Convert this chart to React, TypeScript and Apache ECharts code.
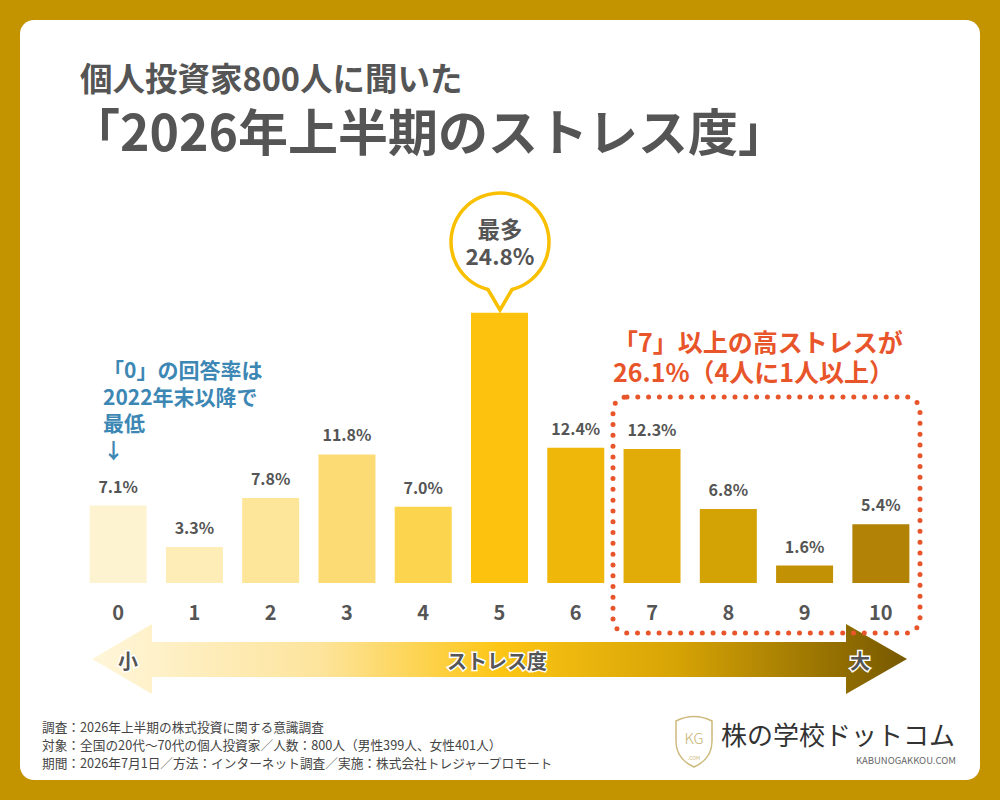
import React, { useEffect, useRef } from "react";
import * as echarts from "echarts";

const categories = ["0", "1", "2", "3", "4", "5", "6", "7", "8", "9", "10"];
const values = [7.1, 3.3, 7.8, 11.8, 7.0, 24.8, 12.4, 12.3, 6.8, 1.6, 5.4];
const titleLines = ["個人投資家800人に聞いた", "「2026年上半期のストレス度」"];
const blueNote = ["「0」の回答率は", "2022年末以降で", "最低", "↓"];
const redNote = ["「7」以上の高ストレスが", "26.1%（4人に1人以上）"];
const footerLines = [
  "調査：2026年上半期の株式投資に関する意識調査",
  "対象：全国の20代～70代の個人投資家／人数：800人（男性399人、女性401人）",
  "期間：2026年7月1日／方法：インターネット調査／実施：株式会社トレジャープロモート",
];
const peakLabel = "最多";
const arrowLabels = ["小", "ストレス度", "大"];

const BAR_COLORS = [
  "#FEF3D0", "#FEEDB6", "#FDE59A", "#FDDB74", "#FDD44E", "#FDC20D",
  "#EFB70A", "#E1AC07", "#D3A205", "#C39104", "#B18205",
];

const FONT = '"Noto Sans CJK JP", "Noto Sans", sans-serif';

let registered = false;
function registerShapes() {
  if (registered) return;
  registered = true;
  echarts.graphic.registerShape(
    "bubble",
    echarts.graphic.extendPath(
      "M 512 289.5 A 49 49 0 1 0 488 289.5 L 500 310 Z",
      {}
    )
  );
  echarts.graphic.registerShape(
    "shield",
    echarts.graphic.extendPath(
      "M 1 7 Q 19 -2 37 7 L 37 27 Q 37 45 19 53 Q 1 45 1 27 Z",
      {}
    )
  );
}

export default function App() {
  const ref = useRef<HTMLDivElement>(null);
  useEffect(() => {
    if (!ref.current) return;
    registerShapes();
    const chart = echarts.init(ref.current, null, { renderer: "svg" });
    const textEl = (
      text: string,
      x: number,
      y: number,
      size: number,
      color: string,
      weight: string | number = "bold",
      align: string = "left",
      extra: any = {}
    ) => ({
      type: "text",
      z: 20,
      style: {
        text,
        x,
        y,
        fill: color,
        font: `${weight} ${size}px ${FONT}`,
        textAlign: align,
        textVerticalAlign: "middle",
        ...extra,
      },
    });
    const halo = { stroke: "#ffffff", lineWidth: 3, strokeFirst: true };

    const graphics: any[] = [
      {
        type: "rect",
        z: -10,
        shape: { x: 20, y: 20, width: 960, height: 760, r: 14 },
        style: { fill: "#ffffff" },
      },
      textEl(titleLines[0], 80, 76, 32.5, "#555555"),
      textEl(titleLines[1], 70, 129, 50, "#555555"),
      textEl(blueNote.join("\n"), 103, 409, 21, "#3D87B4", "bold", "left", {
        lineHeight: 26.5,
      }),
      textEl(redNote.join("\n"), 613, 356, 25, "#E8552A", "bold", "left", {
        lineHeight: 30,
      }),
      {
        type: "bubble",
        z: 15,
        x: 0,
        y: 0,
        style: { fill: "#ffffff", stroke: "#F8C000", lineWidth: 3.5 },
      },
      textEl(
        `${peakLabel}\n${values[5].toFixed(1)}%`,
        500,
        241,
        22.5,
        "#555555",
        "bold",
        "center",
        { lineHeight: 27 }
      ),
      {
        type: "rect",
        z: 15,
        shape: { x: 613, y: 397, width: 307, height: 236, r: 14 },
        style: {
          fill: "none",
          stroke: "#E8552A",
          lineWidth: 5,
          lineDash: [0, 10.8],
          lineCap: "round",
        },
      },
      {
        type: "polygon",
        z: 5,
        shape: {
          points: [
            [92, 659], [152, 624], [152, 642], [846, 642], [846, 624],
            [907, 659], [846, 694], [846, 677], [152, 677], [152, 694],
          ],
        },
        style: {
          fill: new echarts.graphic.LinearGradient(0, 0, 1, 0, [
            { offset: 0, color: "#FFF6DA" },
            { offset: 0.28, color: "#FDE49C" },
            { offset: 0.5, color: "#FDC615" },
            { offset: 0.72, color: "#D6A305" },
            { offset: 1, color: "#765800" },
          ]),
        },
      },
      textEl(arrowLabels[0], 128, 660, 20, "#555555", "bold", "center", halo),
      textEl(arrowLabels[1], 497, 660, 20, "#555555", "bold", "center", halo),
      textEl(arrowLabels[2], 860, 660, 20, "#555555", "bold", "center", halo),
      textEl(footerLines.join("\n"), 42, 744, 12.7, "#444444", "normal", "left", {
        lineHeight: 18,
      }),
      {
        type: "shield",
        z: 20,
        x: 675,
        y: 714,
        style: { fill: "#ffffff", stroke: "#CDB97C", lineWidth: 1.5 },
      },
      textEl("KG", 694, 737, 15, "#C9B473", 300, "center"),
      textEl(".COM", 694, 757, 5, "#C9B473", "normal", "center"),
      textEl("株の学校ドットコム", 721, 733, 26, "#333333", "normal"),
      textEl("KABUNOGAKKOU.COM", 956, 760, 9.5, "#666666", "normal", "right"),
    ];

    chart.setOption({
      animation: false,
      backgroundColor: "#C39300",
      grid: { left: 80, right: 81, top: 256, bottom: 217 },
      xAxis: {
        type: "category",
        data: categories,
        axisLine: { show: false },
        axisTick: { show: false },
        axisLabel: {
          margin: 18,
          fontSize: 20,
          fontWeight: "bold",
          color: "#555555",
          fontFamily: FONT,
        },
      },
      yAxis: {
        type: "value",
        min: 0,
        max: 30,
        show: false,
        splitLine: { show: false },
      },
      series: [
        {
          type: "bar",
          barWidth: 57,
          z: 3,
          data: values.map((v, i) => ({
            value: v,
            itemStyle: { color: BAR_COLORS[i] },
            label: { show: i !== 5 },
          })),
          label: {
            show: true,
            position: "top",
            distance: 12,
            fontSize: 16,
            fontWeight: "bold",
            color: "#555555",
            fontFamily: FONT,
            formatter: (p: any) => `${Number(p.value).toFixed(1)}%`,
          },
        },
      ],
      graphic: graphics,
    });
    return () => chart.dispose();
  }, []);
  return (
    <div
      ref={ref}
      style={{ position: "fixed", left: 0, top: 0, width: 1000, height: 800 }}
    />
  );
}
